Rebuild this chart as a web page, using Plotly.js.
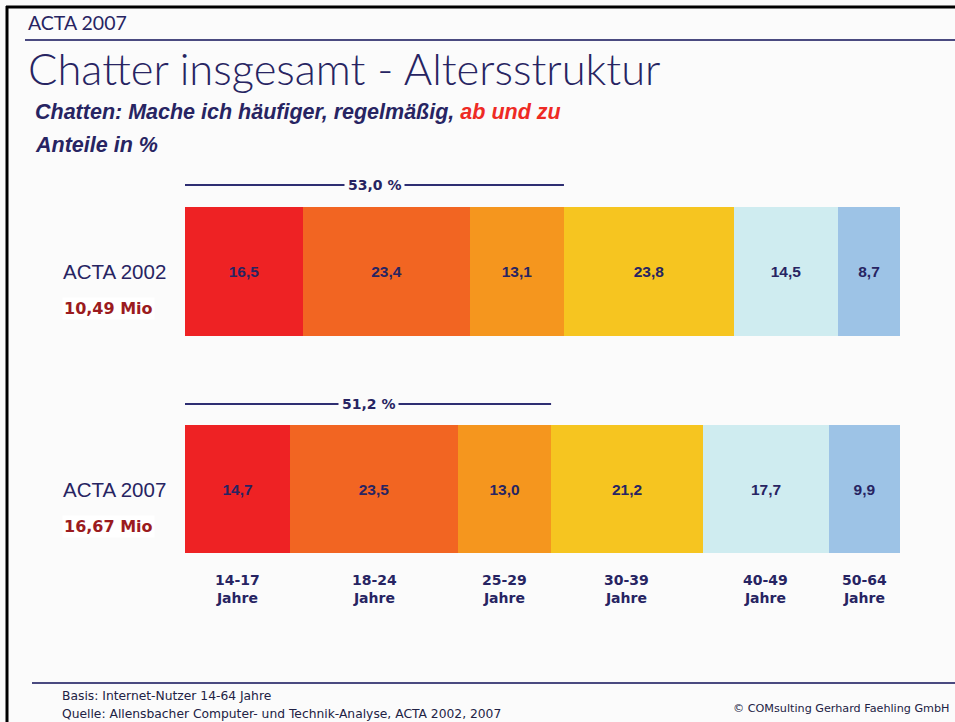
<!DOCTYPE html>
<html>
<head>
<meta charset="utf-8">
<script src="https://cdn.plot.ly/plotly-3.0.1.min.js"></script>
<style>
html,body{margin:0;padding:0;background:#fbfbfb;}
#chart{width:955px;height:722px;}
</style>
</head>
<body>
<div id="chart"></div>
<script>
// ---- data ----
var years = ['ACTA 2002', 'ACTA 2007'];
var totals = ['10,49 Mio', '16,67 Mio'];
var ageGroups = ['14-17', '18-24', '25-29', '30-39', '40-49', '50-64'];
var values2002 = [16.5, 23.4, 13.1, 23.8, 14.5, 8.7];
var values2007 = [14.7, 23.5, 13.0, 21.2, 17.7, 9.9];
var colors = ['#EE2224', '#F26522', '#F5961E', '#F6C520', '#CFECF0', '#9DC3E6'];

var NAVY = '#272462';
var W = 955, H = 722;
function px(x){ return x / W; }
function py(y){ return 1 - y / H; }
function fmt(v){ return v.toFixed(1).replace('.', ','); }

var yPos = [1, 0]; // 2002 top, 2007 below

var traces = ageGroups.map(function(g, i){
  var vals = [values2002[i], values2007[i]];
  return {
    type: 'bar', orientation: 'h',
    name: g,
    x: vals, y: yPos,
    width: 0.593,
    marker: {color: colors[i], line: {width: 0}},
    text: vals.map(function(v){ return '<b>' + fmt(v) + '</b>'; }),
    textposition: 'inside',
    insidetextanchor: 'middle',
    textangle: 0,
    constraintext: 'none',
    textfont: {family: 'Liberation Sans, Arial, sans-serif', size: 15.5, color: NAVY},
    hoverinfo: 'name+x'
  };
});

var annotations = [];
var shapes = [];

// header
annotations.push({xref:'paper', yref:'paper', x:px(26), y:py(22), xanchor:'left', yanchor:'middle',
  text:'ACTA 2007', showarrow:false, font:{family:'Lato, sans-serif', size:19.5, color:NAVY}});
annotations.push({xref:'paper', yref:'paper', x:px(26), y:py(68), xanchor:'left', yanchor:'middle',
  text:'Chatter insgesamt - Altersstruktur', showarrow:false, font:{family:'Lato, sans-serif', size:43.5, color:NAVY, weight:300}});
annotations.push({xref:'paper', yref:'paper', x:px(33), y:py(112), xanchor:'left', yanchor:'middle',
  text:'<b><i>Chatten: Mache ich häufiger, regelmäßig, <span style="color:#EE2A24">ab und zu</span></i></b>', showarrow:false,
  font:{family:'Liberation Sans, Arial, sans-serif', size:21.5, color:NAVY}});
annotations.push({xref:'paper', yref:'paper', x:px(33), y:py(145), xanchor:'left', yanchor:'middle',
  text:'<b><i>Anteile in %</i></b>', showarrow:false,
  font:{family:'Liberation Sans, Arial, sans-serif', size:21.5, color:NAVY}});

// year labels & totals
years.forEach(function(yl, j){
  annotations.push({xref:'paper', yref:'y', x:px(114), y:yPos[j], xanchor:'center', yanchor:'middle',
    text: yl, showarrow:false, font:{family:'Liberation Sans, Arial, sans-serif', size:20.5, color:NAVY}});
  annotations.push({xref:'paper', yref:'y', x:px(108), y:yPos[j] - 37/217.5, xanchor:'center', yanchor:'middle',
    text: '<b>' + totals[j] + '</b>', showarrow:false, bgcolor:'#ffffff',
    font:{family:'DejaVu Sans, sans-serif', size:16, color:'#9B1B20'}});
});

// bracket lines over the first three age groups
[values2002, values2007].forEach(function(vals, j){
  var s = vals[0] + vals[1] + vals[2];
  var yb = yPos[j] + (j === 0 ? 86.5 : 85) / 217.5;
  shapes.push({type:'line', xref:'x', yref:'y', x0:0, x1:s, y0:yb, y1:yb, line:{color:'#2E2E72', width:2}});
  annotations.push({xref:'x', yref:'y', x:s/2, y:yb, xanchor:'center', yanchor:'middle',
    text:'<b>' + fmt(s) + ' %</b>', showarrow:false, bgcolor:'#fbfbfb', borderpad:3,
    font:{family:'DejaVu Sans, sans-serif', size:14, color:NAVY}});
});

// age group labels under 2007 bar
var cum = 0;
ageGroups.forEach(function(g, i){
  var c = cum + values2007[i] / 2;
  cum += values2007[i];
  annotations.push({xref:'x', yref:'paper', x:c, y:py(589), xanchor:'center', yanchor:'middle',
    text:'<b>' + g + '<br>Jahre</b>', showarrow:false,
    font:{family:'DejaVu Sans, sans-serif', size:14, color:NAVY}});
});

// footer
annotations.push({xref:'paper', yref:'paper', x:px(60), y:py(696), xanchor:'left', yanchor:'middle',
  text:'Basis: Internet-Nutzer 14-64 Jahre', showarrow:false, font:{family:'DejaVu Sans, sans-serif', size:12.3, color:'#222244'}});
annotations.push({xref:'paper', yref:'paper', x:px(60), y:py(714), xanchor:'left', yanchor:'middle',
  text:'Quelle: Allensbacher Computer- und Technik-Analyse, ACTA 2002, 2007', showarrow:false, font:{family:'DejaVu Sans, sans-serif', size:12.3, color:'#222244'}});
annotations.push({xref:'paper', yref:'paper', x:px(952), y:py(708), xanchor:'right', yanchor:'middle',
  text:'© COMsulting Gerhard Faehling GmbH', showarrow:false, font:{family:'DejaVu Sans, sans-serif', size:11.2, color:'#222244'}});

// frame and rules
shapes.push({type:'line', xref:'paper', yref:'paper', x0:px(7), x1:px(7), y0:py(6), y1:py(722), line:{color:'#000', width:3}});
shapes.push({type:'line', xref:'paper', yref:'paper', x0:px(6), x1:px(955), y0:py(7), y1:py(7), line:{color:'#000', width:3}});
shapes.push({type:'line', xref:'paper', yref:'paper', x0:px(25), x1:px(955), y0:py(40), y1:py(40), line:{color:'#4A4A80', width:2}});
shapes.push({type:'line', xref:'paper', yref:'paper', x0:px(32), x1:px(955), y0:py(683), y1:py(683), line:{color:'#4A4A80', width:2}});

var layout = {
  width: W, height: H,
  margin: {l:0, r:0, t:0, b:0, pad:0},
  paper_bgcolor: '#fbfbfb', plot_bgcolor: 'rgba(0,0,0,0)',
  barmode: 'stack', bargap: 0,
  showlegend: false,
  xaxis: {range: [-185/7.15, (W-185)/7.15], visible:false, fixedrange:true},
  yaxis: {range: [-(H-489)/217.5, 1 + 271.5/217.5], visible:false, fixedrange:true},
  annotations: annotations,
  shapes: shapes
};

Plotly.newPlot('chart', traces, layout, {displayModeBar:false});
</script>
</body>
</html>
